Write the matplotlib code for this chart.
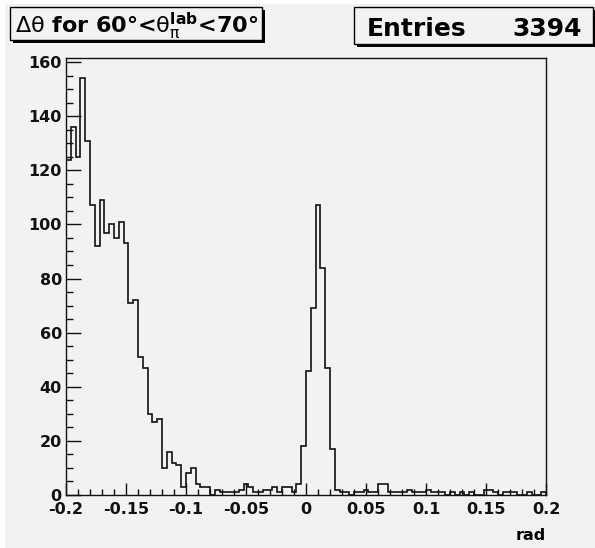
import numpy as np
import matplotlib
matplotlib.use("Agg")
import matplotlib.pyplot as plt
from matplotlib.patches import Rectangle
from matplotlib.ticker import MultipleLocator

# histogram contents, 100 bins from -0.2 to 0.2 rad
counts = [124, 136, 125, 154, 131, 107, 92, 109, 97, 100,
          95, 101, 93, 71, 72, 51, 47, 30, 27, 28,
          10, 16, 12, 11, 3, 8, 10, 4, 3, 3,
          0, 2, 1, 1, 1, 1, 2, 4, 3, 1,
          1, 2, 2, 3, 1, 3, 3, 1, 4, 18,
          46, 69, 107, 84, 47, 17, 2, 1, 1, 0,
          1, 1, 2, 1, 1, 4, 4, 1, 1, 1,
          1, 2, 1, 1, 1, 2, 1, 1, 1, 0,
          1, 0, 1, 0, 1, 0, 0, 2, 2, 1,
          0, 1, 1, 1, 0, 0, 1, 0, 0, 1]
x_lo, x_hi = -0.2, 0.2
n_entries = 3394

xtick_vals = [-0.2, -0.15, -0.1, -0.05, 0, 0.05, 0.1, 0.15, 0.2]
xtick_labels = ["-0.2", "-0.15", "-0.1", "-0.05", "0", "0.05", "0.1", "0.15", "0.2"]
ytick_vals = [0, 20, 40, 60, 80, 100, 120, 140, 160]
ytick_labels = [str(v) for v in ytick_vals]

title = r"$\Delta\theta$ for 60°<$\theta_{\pi}^{\mathbf{lab}}$<70°"

BG = "#f2f2f2"
W, H = 595, 548

plt.rcParams["font.family"] = ["DejaVu Sans"]
plt.rcParams["font.weight"] = "bold"
# greek symbols upright and thin, like the ROOT symbol font
plt.rcParams["mathtext.fontset"] = "custom"
plt.rcParams["mathtext.rm"] = "DejaVu Sans:weight=normal"
plt.rcParams["mathtext.it"] = "DejaVu Sans:weight=normal"
plt.rcParams["mathtext.bf"] = "DejaVu Sans:weight=bold"
plt.rcParams["mathtext.default"] = "rm"

fig = plt.figure(figsize=(W / 100, H / 100), dpi=100, facecolor=BG)


def box(x0, y0, x1, y1, **kw):
    # rectangle given in pixel coords from the top-left corner
    r = Rectangle((x0 / W, 1 - y1 / H), (x1 - x0) / W, (y1 - y0) / H,
                  transform=fig.transFigure, **kw)
    fig.add_artist(r)


# thin white margin of the screenshot
box(0, 0, 5, H, facecolor="white", edgecolor="none")
box(0, 0, W, 4, facecolor="white", edgecolor="none")

ax = fig.add_axes([66 / W, 1 - 495 / H, 480 / W, 437.5 / H])
ax.set_facecolor(BG)

edges = np.linspace(x_lo, x_hi, len(counts) + 1)
ax.stairs(counts, edges, color="#111111", linewidth=1.2)

ax.set_xlim(x_lo, x_hi)
ax.set_ylim(0, 1.05 * max(counts))

ax.set_xticks(xtick_vals)
ax.set_xticklabels(xtick_labels)
ax.set_yticks(ytick_vals)
ax.set_yticklabels(ytick_labels)
ax.xaxis.set_minor_locator(MultipleLocator(0.01))
ax.yaxis.set_minor_locator(MultipleLocator(5))

ax.tick_params(axis="both", which="both", direction="in", top=False, right=False,
               width=1.0, colors="#111111", labelsize=11.5)
ax.tick_params(axis="x", which="major", length=8.6, pad=5)
ax.tick_params(axis="x", which="minor", length=4.3)
ax.tick_params(axis="y", which="major", length=10.8, pad=3)
ax.tick_params(axis="y", which="minor", length=5)
for s in ax.spines.values():
    s.set_linewidth(1.0)
    s.set_color("#111111")

ax.set_xlabel("rad", loc="right", fontsize=11.5, fontweight="bold", labelpad=8)

# title box with shadow
box(13, 10, 265, 43, facecolor="black", edgecolor="none")
box(10, 7, 262, 40, facecolor=BG, edgecolor="black", linewidth=1.0)
fig.text(15 / W, 1 - 33 / H, title, fontsize=16, fontweight="bold",
         ha="left", va="baseline")

# stats box with shadow
box(357, 10, 598, 47, facecolor="black", edgecolor="none")
box(354, 7, 593, 44, facecolor=BG, edgecolor="black", linewidth=1.0)
fig.text(367 / W, 1 - 36 / H, "Entries", fontsize=18, fontweight="bold",
         ha="left", va="baseline")
fig.text(582 / W, 1 - 36 / H, str(n_entries), fontsize=18, fontweight="bold",
         ha="right", va="baseline")

fig.savefig("out.png", dpi=100, facecolor=BG)
